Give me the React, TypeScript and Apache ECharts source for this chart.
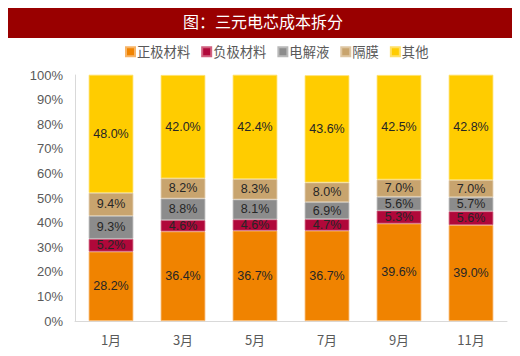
import React, { useEffect, useRef } from "react";
import * as echarts from "echarts";

const categories = ["1月", "3月", "5月", "7月", "9月", "11月"];
const seriesNames = ["正极材料", "负极材料", "电解液", "隔膜", "其他"];
const cathode = [28.2, 36.4, 36.7, 36.7, 39.6, 39.0];
const anode = [5.2, 4.6, 4.6, 4.7, 5.3, 5.6];
const electrolyte = [9.3, 8.8, 8.1, 6.9, 5.6, 5.7];
const separator = [9.4, 8.2, 8.3, 8.0, 7.0, 7.0];
const others = [48.0, 42.0, 42.4, 43.6, 42.5, 42.8];
const yTicks = [0, 10, 20, 30, 40, 50, 60, 70, 80, 90, 100];

const colors = ["#F08300", "#B0083A", "#8C8C8C", "#C8A46E", "#FFCC00"];
const borderColors = ["#F7B466", "#D0607F", "#B8B8B8", "#DEC6A2", "#FFE066"];

export default function App() {
  const ref = useRef<HTMLDivElement>(null);
  useEffect(() => {
    if (!ref.current) return;
    const chart = echarts.init(ref.current, null, { renderer: "svg" });
    const all = [cathode, anode, electrolyte, separator, others];
    const font = "'Liberation Sans', Arial, 'Noto Sans CJK SC', sans-serif";
    chart.setOption({
      animation: false,
      textStyle: { fontFamily: font },
      graphic: [
        {
          type: "rect",
          shape: { x: 0, y: 1, width: 520, height: 37 },
          style: { fill: "#990000" },
          silent: true,
        },
        {
          type: "text",
          x: 263,
          y: 21,
          style: {
            text: "图：三元电芯成本拆分",
            fill: "#ffffff",
            fontSize: 16,
            fontFamily: "'Noto Sans CJK SC', sans-serif",
            align: "center",
            verticalAlign: "middle",
          },
          silent: true,
        },
      ],
      legend: {
        top: 40,
        left: 120,
        itemWidth: 9,
        itemHeight: 9,
        itemGap: 11,
        icon: "rect",
        data: seriesNames,
        textStyle: {
          color: "#595959",
          fontSize: 13.3,
          fontFamily: "'Noto Sans CJK SC', sans-serif",
          padding: [0, 0, 0, -3],
        },
      },
      grid: { left: 75, right: 13, top: 75, bottom: 35 },
      xAxis: {
        type: "category",
        data: categories,
        axisLine: { lineStyle: { color: "#D9D9D9" } },
        axisTick: { show: false },
        axisLabel: {
          color: "#595959",
          fontSize: 13,
          margin: 12,
          fontFamily: "'Noto Sans CJK SC', sans-serif",
        },
      },
      yAxis: {
        type: "value",
        min: yTicks[0],
        max: yTicks[yTicks.length - 1],
        interval: 10,
        axisLine: { show: true, lineStyle: { color: "#D9D9D9" } },
        axisTick: { show: false },
        splitLine: { show: false },
        axisLabel: {
          color: "#595959",
          fontSize: 13,
          margin: 12,
          formatter: (v: number) => v + "%",
        },
      },
      series: seriesNames.map((name, i) => ({
        name,
        type: "bar",
        stack: "total",
        barWidth: "62%",
        data: all[i],
        itemStyle: {
          color: colors[i],
          borderColor: borderColors[i],
          borderWidth: 0.8,
        },
        label: {
          show: true,
          position: "inside",
          color: "#262626",
          fontSize: 12.5,
          formatter: (p: any) => p.value.toFixed(1) + "%",
        },
      })),
    });
    return () => chart.dispose();
  }, []);
  return <div ref={ref} style={{ width: 520, height: 356, margin: -8 }} />;
}
